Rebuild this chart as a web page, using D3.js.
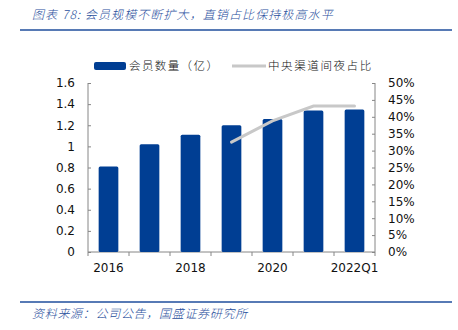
<!DOCTYPE html>
<html>
<head>
<meta charset="utf-8">
<script src="https://cdn.jsdelivr.net/npm/d3@7/dist/d3.min.js"></script>
<style>
  html, body { margin: 0; padding: 0; background: #fff; }
  svg { display: block; }
</style>
</head>
<body>
<script>
// Data
const categories = ["2016", "2017", "2018", "2019", "2020", "2021", "2022Q1"];
const tickLabels = ["2016", "2018", "2020", "2022Q1"];
const members = [0.81, 1.02, 1.11, 1.20, 1.26, 1.34, 1.35];          // 会员数量（亿）
const shareCats = ["2019", "2020", "2021", "2022Q1"];
const shareValues = [0.325, 0.388, 0.432, 0.432];                     // 中央渠道间夜占比

const W = 458, H = 330;
const blue = "#003e93", gray = "#c8c8c8", axisColor = "#868686", navy = "#1f4e9c";
const fontCJK = "'Noto Sans CJK SC', sans-serif";
const fontAxis = "'DejaVu Sans', Verdana, sans-serif";

const svg = d3.select("body").append("svg").attr("width", W).attr("height", H);

// Title and rule
svg.append("text").attr("x", 32).attr("y", 19)
  .attr("font-family", fontCJK).attr("font-size", 12).attr("font-weight", 300)
  .attr("letter-spacing", 1.1)
  .attr("font-style", "italic").attr("fill", navy)
  .text("图表 78:  会员规模不断扩大，直销占比保持极高水平");
svg.append("line").attr("x1", 20).attr("x2", 452).attr("y1", 30).attr("y2", 30)
  .attr("stroke", navy).attr("stroke-width", 1.5);

// Source and rule
svg.append("line").attr("x1", 20).attr("x2", 452).attr("y1", 302).attr("y2", 302)
  .attr("stroke", navy).attr("stroke-width", 1.5);
svg.append("text").attr("x", 32).attr("y", 318)
  .attr("font-family", fontCJK).attr("font-size", 12).attr("font-weight", 300)
  .attr("letter-spacing", 0.7)
  .attr("font-style", "italic").attr("fill", navy)
  .text("资料来源：公司公告，国盛证券研究所");

// Scales
const x = d3.scaleBand().domain(categories).range([88, 375]).paddingInner(0.52).paddingOuter(0.26);
const yL = d3.scaleLinear().domain([0, 1.6]).range([252, 83]);
const yR = d3.scaleLinear().domain([0, 0.5]).range([252, 83]);

// Left axis
const gL = svg.append("g").attr("transform", "translate(88,0)")
  .call(d3.axisLeft(yL).tickValues(d3.range(0, 1.61, 0.2)).tickSize(-3).tickPadding(13)
    .tickFormat(d => d3.format(".1~f")(d)));
// Right axis
const gR = svg.append("g").attr("transform", "translate(375,0)")
  .call(d3.axisRight(yR).tickValues(d3.range(0, 0.501, 0.05)).tickSize(-3).tickPadding(13)
    .tickFormat(d3.format(".0%")));
// Bottom axis: ticks at band boundaries, labels at every other category
const gB = svg.append("g").attr("transform", "translate(0,252)");
gB.append("line").attr("x1", 88).attr("x2", 375).attr("stroke", axisColor);
const step = x.step();
d3.range(0, categories.length + 1).forEach(i => {
  const xx = 88 + i * step;
  gB.append("line").attr("x1", xx).attr("x2", xx).attr("y1", 0).attr("y2", 4).attr("stroke", axisColor);
});
gB.selectAll("text.xl").data(tickLabels).join("text")
  .attr("x", d => x(d) + x.bandwidth() / 2).attr("y", 20)
  .attr("text-anchor", "middle").attr("font-family", fontAxis).attr("font-size", 12)
  .attr("fill", "#111").text(d => d);

[gL, gR].forEach(g => {
  g.selectAll(".domain").attr("stroke", axisColor).attr("d", "M0,83V252");
  g.selectAll(".tick line").attr("stroke", axisColor);
  g.selectAll(".tick text").attr("font-family", fontAxis).attr("font-size", 12).attr("fill", "#111");
});

// Bars
svg.append("g").selectAll("rect").data(members).join("rect")
  .attr("x", (d, i) => x(categories[i]))
  .attr("width", x.bandwidth())
  .attr("y", d => yL(d))
  .attr("height", d => yL(0) - yL(d))
  .attr("rx", 1.5)
  .attr("fill", blue);

// Line
const line = d3.line().x((d, i) => x(shareCats[i]) + x.bandwidth() / 2).y(d => yR(d));
svg.append("path").datum(shareValues).attr("d", line)
  .attr("fill", "none").attr("stroke", gray).attr("stroke-width", 3).attr("stroke-linecap", "round");

// Legend
const lg = svg.append("g");
lg.append("rect").attr("x", 94).attr("y", 62).attr("width", 32).attr("height", 8).attr("rx", 2).attr("fill", blue);
lg.append("text").attr("x", 129).attr("y", 70).attr("font-family", fontCJK).attr("font-weight", 300)
  .attr("font-size", 11.5).attr("letter-spacing", 1.4).attr("fill", "#111").text("会员数量（亿）");
lg.append("line").attr("x1", 232).attr("x2", 266).attr("y1", 66).attr("y2", 66)
  .attr("stroke", gray).attr("stroke-width", 3);
lg.append("text").attr("x", 268).attr("y", 70).attr("font-family", fontCJK).attr("font-weight", 300)
  .attr("font-size", 11.5).attr("letter-spacing", 1.6).attr("fill", "#111").text("中央渠道间夜占比");
</script>
</body>
</html>
